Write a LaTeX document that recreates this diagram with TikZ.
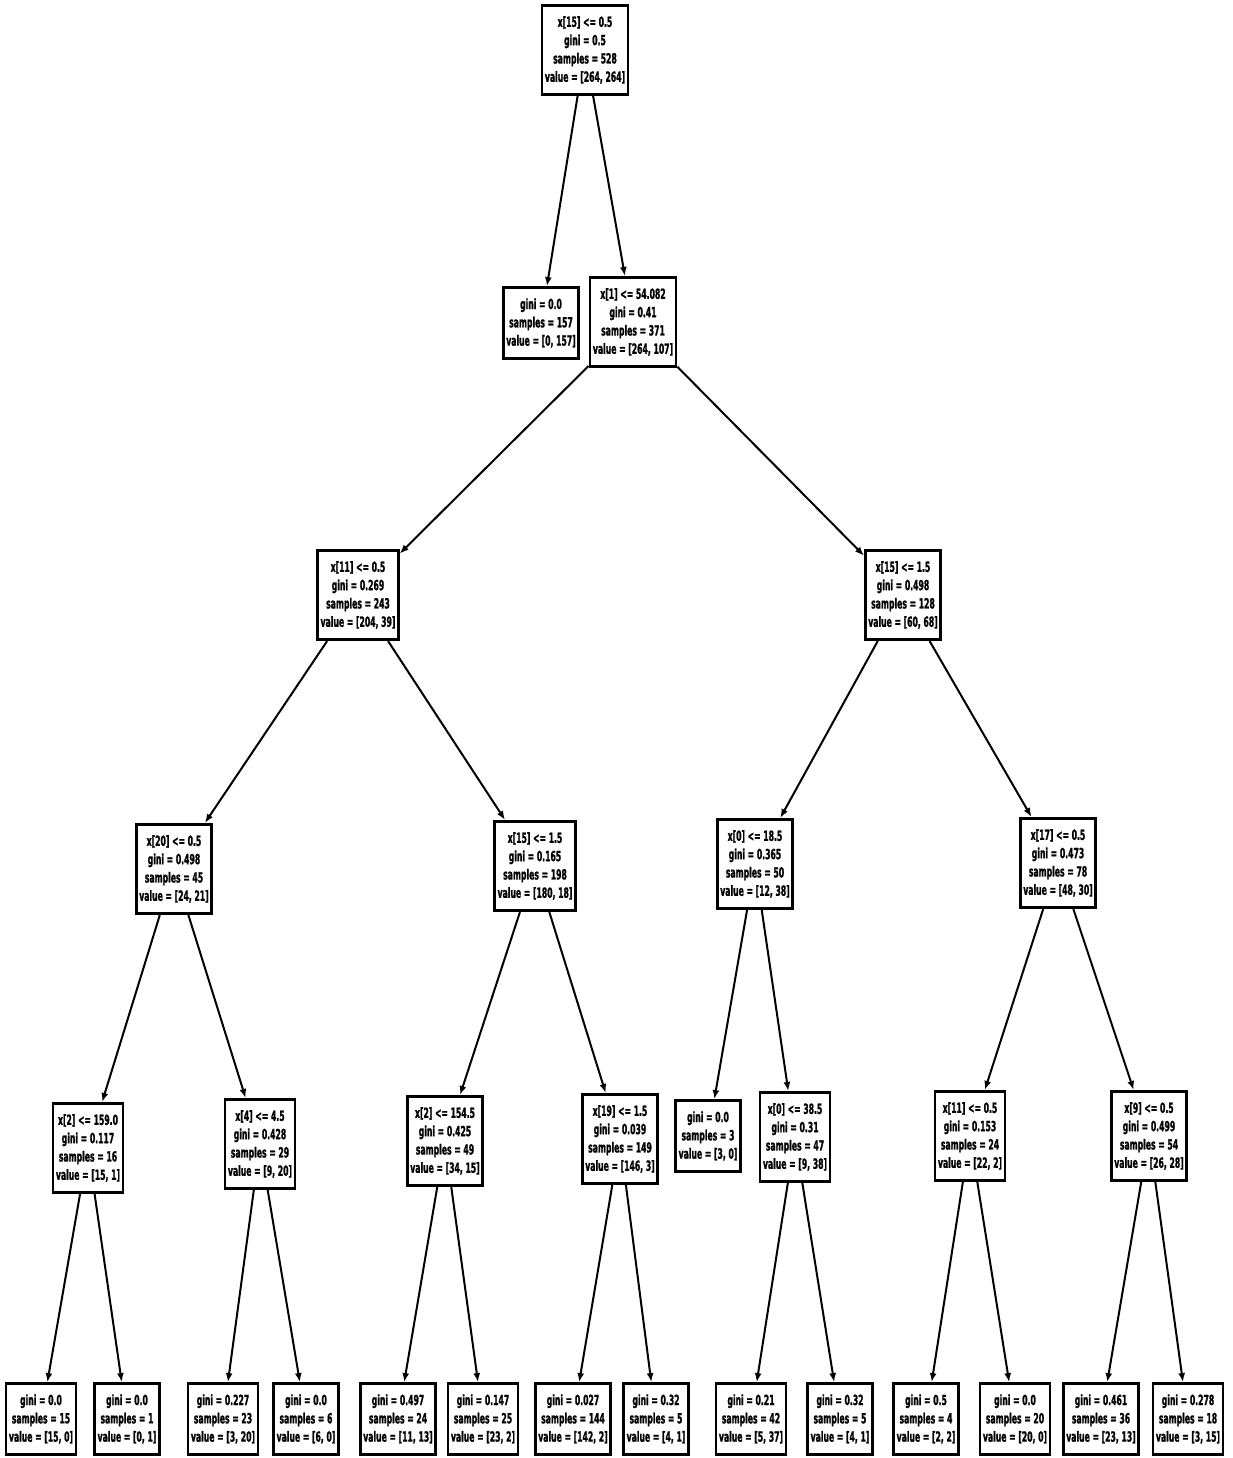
\documentclass[tikz,border=0pt]{standalone}
\usepackage{fontspec}
\usepackage{tikz}
\usetikzlibrary{arrows.meta,positioning}
\newfontfamily\treefont[FakeStretch=0.55,FakeBold=1.2]{DejaVu Sans}

\begin{document}
\begin{tikzpicture}[
  x=1pt, y=-1pt,
  split/.style={rectangle, draw, line width=2.6pt, align=center, inner xsep=3pt, inner ysep=11pt,
    font=\treefont\bfseries\fontsize{14}{18.3}\selectfont},
  leaf/.style={split},
  every edge/.style={draw, line width=2pt, -{Latex[length=9pt,width=7pt]}}
]
  \useasboundingbox (0,0) rectangle (1233,1458);

  % root and first split
  \node[split] (n0) at (585,50) {x[15] <= 0.5\\gini = 0.5\\samples = 528\\value = [264, 264]};
  \node[leaf] (n1) at (541,323) {gini = 0.0\\samples = 157\\value = [0, 157]};
  \node[split] (n2) at (633,322) {x[1] <= 54.082\\gini = 0.41\\samples = 371\\value = [264, 107]};

  % left branch
  \node[split] (n3) at (358,595) {x[11] <= 0.5\\gini = 0.269\\samples = 243\\value = [204, 39]};
  \node[split] (n4) at (174,869) {x[20] <= 0.5\\gini = 0.498\\samples = 45\\value = [24, 21]};
  \node[split] (n5) at (88,1148) {x[2] <= 159.0\\gini = 0.117\\samples = 16\\value = [15, 1]};
  \node[leaf] (n6) at (41,1419) {gini = 0.0\\samples = 15\\value = [15, 0]};
  \node[leaf] (n7) at (127,1419) {gini = 0.0\\samples = 1\\value = [0, 1]};
  \node[split] (n8) at (260,1144) {x[4] <= 4.5\\gini = 0.428\\samples = 29\\value = [9, 20]};
  \node[leaf] (n9) at (223,1419) {gini = 0.227\\samples = 23\\value = [3, 20]};
  \node[leaf] (n10) at (306,1419) {gini = 0.0\\samples = 6\\value = [6, 0]};
  \node[split] (n11) at (535,866) {x[15] <= 1.5\\gini = 0.165\\samples = 198\\value = [180, 18]};
  \node[split] (n12) at (445,1141) {x[2] <= 154.5\\gini = 0.425\\samples = 49\\value = [34, 15]};
  \node[leaf] (n13) at (398,1419) {gini = 0.497\\samples = 24\\value = [11, 13]};
  \node[leaf] (n14) at (483,1419) {gini = 0.147\\samples = 25\\value = [23, 2]};
  \node[split] (n15) at (620,1139) {x[19] <= 1.5\\gini = 0.039\\samples = 149\\value = [146, 3]};
  \node[leaf] (n16) at (573,1419) {gini = 0.027\\samples = 144\\value = [142, 2]};
  \node[leaf] (n17) at (656,1419) {gini = 0.32\\samples = 5\\value = [4, 1]};

  % right branch
  \node[split] (n18) at (903,595) {x[15] <= 1.5\\gini = 0.498\\samples = 128\\value = [60, 68]};
  \node[split] (n19) at (755,864) {x[0] <= 18.5\\gini = 0.365\\samples = 50\\value = [12, 38]};
  \node[leaf] (n20) at (708,1136) {gini = 0.0\\samples = 3\\value = [3, 0]};
  \node[split] (n21) at (795,1137) {x[0] <= 38.5\\gini = 0.31\\samples = 47\\value = [9, 38]};
  \node[leaf] (n22) at (751,1419) {gini = 0.21\\samples = 42\\value = [5, 37]};
  \node[leaf] (n23) at (840,1419) {gini = 0.32\\samples = 5\\value = [4, 1]};
  \node[split] (n24) at (1058,863) {x[17] <= 0.5\\gini = 0.473\\samples = 78\\value = [48, 30]};
  \node[split] (n25) at (970,1136) {x[11] <= 0.5\\gini = 0.153\\samples = 24\\value = [22, 2]};
  \node[leaf] (n26) at (926,1419) {gini = 0.5\\samples = 4\\value = [2, 2]};
  \node[leaf] (n27) at (1015,1419) {gini = 0.0\\samples = 20\\value = [20, 0]};
  \node[split] (n28) at (1149,1136) {x[9] <= 0.5\\gini = 0.499\\samples = 54\\value = [26, 28]};
  \node[leaf] (n29) at (1101,1419) {gini = 0.461\\samples = 36\\value = [23, 13]};
  \node[leaf] (n30) at (1188,1419) {gini = 0.278\\samples = 18\\value = [3, 15]};

  \path[every edge]
    (n0) edge (n1)
    (n0) edge (n2)
    (n2) edge (n3)
    (n2) edge (n18)
    (n3) edge (n4)
    (n3) edge (n11)
    (n4) edge (n5)
    (n4) edge (n8)
    (n5) edge (n6)
    (n5) edge (n7)
    (n8) edge (n9)
    (n8) edge (n10)
    (n11) edge (n12)
    (n11) edge (n15)
    (n12) edge (n13)
    (n12) edge (n14)
    (n15) edge (n16)
    (n15) edge (n17)
    (n18) edge (n19)
    (n18) edge (n24)
    (n19) edge (n20)
    (n19) edge (n21)
    (n21) edge (n22)
    (n21) edge (n23)
    (n24) edge (n25)
    (n24) edge (n28)
    (n25) edge (n26)
    (n25) edge (n27)
    (n28) edge (n29)
    (n28) edge (n30);
\end{tikzpicture}
\end{document}
